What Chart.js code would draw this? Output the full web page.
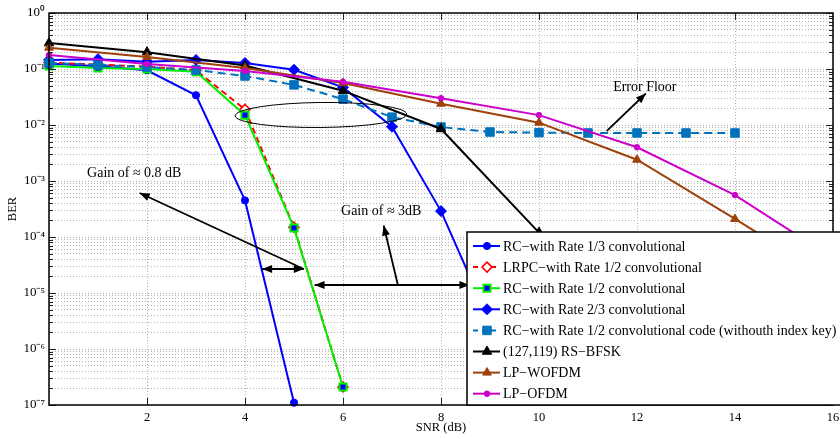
<!DOCTYPE html>
<html>
<head>
<meta charset="utf-8">
<script src="https://cdn.jsdelivr.net/npm/chart.js@4.4.0/dist/chart.umd.min.js"></script>
<style>
html,body{margin:0;padding:0;background:#fff;}
#wrap{width:840px;height:439px;position:relative;}
</style>
</head>
<body>
<div id="wrap"><canvas id="c" width="840" height="439"></canvas></div>
<script>
// ---------------- data ----------------
const seriesLabels = [
  'RC\u2212with Rate 1/3 convolutional',
  'LRPC\u2212with Rate 1/2 convolutional',
  'RC\u2212with Rate 1/2 convolutional',
  'RC\u2212with Rate 2/3 convolutional',
  'RC\u2212with Rate 1/2 convolutional code (withouth index key)',
  '(127,119) RS\u2212BFSK',
  'LP\u2212WOFDM',
  'LP\u2212OFDM'
];
const snrRC13  = [0, 1, 2, 3, 4, 5];
const berRC13  = [0.125, 0.112, 0.095, 0.034, 4.5e-4, 1.1e-7];
const snrLRPC12 = [0, 1, 2, 3, 4, 5, 6];
const berLRPC12 = [0.13, 0.12, 0.11, 0.095, 0.019, 1.5e-4, 2.1e-7];
const snrRC12  = [0, 1, 2, 3, 4, 5, 6];
const berRC12  = [0.113, 0.104, 0.10, 0.089, 0.015, 1.45e-4, 2.1e-7];
const snrRC23  = [0, 1, 2, 3, 4, 5, 6, 7, 8, 9];
const berRC23  = [0.145, 0.15, 0.135, 0.145, 0.128, 0.097, 0.047, 0.0093, 2.9e-4, 3e-6];
const snrNoKey = [0, 1, 2, 3, 4, 5, 6, 7, 8, 9, 10, 11, 12, 13, 14];
const berNoKey = [0.128, 0.118, 0.108, 0.096, 0.075, 0.052, 0.029, 0.0138, 0.0092, 0.0075, 0.0073, 0.0072, 0.0072, 0.0072, 0.0072];
const snrBFSK  = [0, 2, 4, 6, 8, 10];
const berBFSK  = [0.29, 0.20, 0.115, 0.041, 0.0085, 1.2e-4];
const snrWOFDM = [0, 2, 4, 6, 8, 10, 12, 14, 16];
const berWOFDM = [0.24, 0.164, 0.104, 0.056, 0.024, 0.011, 0.0024, 2.1e-4, 1.7e-5];
const snrOFDM  = [0, 2, 4, 6, 8, 10, 12, 14, 16];
const berOFDM  = [0.178, 0.123, 0.092, 0.059, 0.030, 0.015, 0.0040, 5.6e-4, 4.2e-5];

const xTickValues = [0, 2, 4, 6, 8, 10, 12, 14, 16];
const yDecades = [-7, -6, -5, -4, -3, -2, -1, 0];
const supDigits = {'0':'\u2070','1':'\u00B9','2':'\u00B2','3':'\u00B3','4':'\u2074','5':'\u2075','6':'\u2076','7':'\u2077','8':'\u2078','9':'\u2079','-':'\u207B'};

// annotations (data coordinates: SNR, BER)
const annoTexts = [
  {text:'Gain of \u2248 0.8 dB', x:1.74, y:1.39e-3},
  {text:'Gain of \u2248 3dB', x:6.78, y:2.9e-4},
  {text:'Error Floor', x:12.16, y:0.0477}
];
const annoArrows = [
  {x1:5.20, y1:2.68e-5, x2:1.85, y2:6.1e-4, start:false, end:true},
  {x1:4.35, y1:2.68e-5, x2:5.20, y2:2.68e-5, start:true, end:true},
  {x1:5.42, y1:1.39e-5, x2:8.58, y2:1.39e-5, start:true, end:true},
  {x1:7.12, y1:1.39e-5, x2:6.83, y2:1.6e-4, start:false, end:true},
  {x1:11.38, y1:7.8e-3, x2:12.18, y2:0.0365, start:false, end:true}
];
const annoEllipse = {x:5.55, y:0.0151, rxUnits:1.75, ryPx:12.5};

// ---------------- build ----------------
function pts(xs, ys){ return xs.map((x,i)=>({x:x, y:ys[i]})); }
const SERIF = "'Liberation Serif', 'Times New Roman', serif";

const datasets = [
  {label:seriesLabels[0], data:pts(snrRC13,berRC13), borderColor:'#0000ff', backgroundColor:'#0000ff',
   pointStyle:'circle', pointRadius:3.6, pointBackgroundColor:'#0000ff', pointBorderColor:'#0000ff', pointBorderWidth:1, borderWidth:2},
  {label:seriesLabels[1], data:pts(snrLRPC12,berLRPC12), borderColor:'#ff0000', backgroundColor:'#ff0000', borderDash:[6,4],
   pointStyle:'rectRot', pointRadius:5, pointBackgroundColor:'#ffffff', pointBorderColor:'#ff0000', pointBorderWidth:1.6, borderWidth:2},
  {label:seriesLabels[2], data:pts(snrRC12,berRC12), borderColor:'#00ee00', backgroundColor:'#00ee00',
   pointStyle:'rect', pointRadius:5, pointBackgroundColor:'#0000ff', pointBorderColor:'#00ee00', pointBorderWidth:2, borderWidth:2},
  {label:seriesLabels[3], data:pts(snrRC23,berRC23), borderColor:'#0000ff', backgroundColor:'#0000ff',
   pointStyle:'rectRot', pointRadius:5.5, pointBackgroundColor:'#0000ff', pointBorderColor:'#0000ff', pointBorderWidth:1, borderWidth:2},
  {label:seriesLabels[4], data:pts(snrNoKey,berNoKey), borderColor:'#0072bd', backgroundColor:'#0072bd', borderDash:[8,5],
   pointStyle:'rect', pointRadius:6, pointBackgroundColor:'#0072bd', pointBorderColor:'#0072bd', pointBorderWidth:1, borderWidth:2},
  {label:seriesLabels[5], data:pts(snrBFSK,berBFSK), borderColor:'#000000', backgroundColor:'#000000',
   pointStyle:'triangle', pointRadius:5.5, pointBackgroundColor:'#000000', pointBorderColor:'#000000', pointBorderWidth:1, borderWidth:2},
  {label:seriesLabels[6], data:pts(snrWOFDM,berWOFDM), borderColor:'#a0400a', backgroundColor:'#a0400a',
   pointStyle:'triangle', pointRadius:5, pointBackgroundColor:'#a0400a', pointBorderColor:'#a0400a', pointBorderWidth:1, borderWidth:2},
  {label:seriesLabels[7], data:pts(snrOFDM,berOFDM), borderColor:'#cc00cc', backgroundColor:'#cc00cc',
   pointStyle:'circle', pointRadius:2.8, pointBackgroundColor:'#cc00cc', pointBorderColor:'#cc00cc', pointBorderWidth:1, borderWidth:2}
];
datasets.forEach((d,i)=>{ d.order = 20 - i; d.tension = 0; d.fill = false; d.clip = false; d.pointHoverRadius = d.pointRadius; });

const yTickValues = [];
yDecades.forEach(k=>{
  if (k === 0) { yTickValues.push(1); return; }
  for (let m=1; m<=9; m++) yTickValues.push(m*Math.pow(10,k));
});
function isDecade(v){ const l = Math.log10(v); return Math.abs(l - Math.round(l)) < 1e-9; }
function decadeLabel(v){
  const e = String(Math.round(Math.log10(v)));
  return '10' + e.split('').map(c=>supDigits[c]).join('');
}

function marker(ctx, style, r, x, y, fill, stroke, bw){
  ctx.save();
  ctx.beginPath();
  if (style === 'circle') { ctx.arc(x, y, r, 0, Math.PI*2); }
  else if (style === 'rect') { const s = Math.SQRT1_2*r; ctx.rect(x-s, y-s, 2*s, 2*s); }
  else if (style === 'rectRot') { ctx.moveTo(x-r,y); ctx.lineTo(x,y-r); ctx.lineTo(x+r,y); ctx.lineTo(x,y+r); ctx.closePath(); }
  else if (style === 'triangle') {
    let a = 0; ctx.moveTo(x + Math.sin(a)*r, y - Math.cos(a)*r);
    a += 2*Math.PI/3; ctx.lineTo(x + Math.sin(a)*r, y - Math.cos(a)*r);
    a += 2*Math.PI/3; ctx.lineTo(x + Math.sin(a)*r, y - Math.cos(a)*r);
    ctx.closePath();
  }
  ctx.fillStyle = fill; ctx.fill();
  ctx.lineWidth = bw; ctx.strokeStyle = stroke; ctx.stroke();
  ctx.restore();
}

function arrowHead(ctx, x1, y1, x2, y2){
  const ang = Math.atan2(y2-y1, x2-x1), L = 10, W = 4;
  ctx.beginPath();
  ctx.moveTo(x2, y2);
  ctx.lineTo(x2 - L*Math.cos(ang) + W*Math.sin(ang), y2 - L*Math.sin(ang) - W*Math.cos(ang));
  ctx.lineTo(x2 - L*Math.cos(ang) - W*Math.sin(ang), y2 - L*Math.sin(ang) + W*Math.cos(ang));
  ctx.closePath();
  ctx.fill();
}

const decorPlugin = {
  id:'decor',
  afterDatasetsDraw(chart){
    const ctx = chart.ctx, a = chart.chartArea, xs = chart.scales.x, ys = chart.scales.y;
    ctx.save();
    // inward ticks
    ctx.strokeStyle = '#222'; ctx.lineWidth = 1;
    xs.ticks.forEach(t=>{
      if (t.value <= 0 || t.value >= 16) return;
      const px = Math.round(xs.getPixelForValue(t.value)) + 0.5;
      ctx.beginPath();
      ctx.moveTo(px, a.bottom); ctx.lineTo(px, a.bottom - 7);
      ctx.moveTo(px, a.top); ctx.lineTo(px, a.top + 7);
      ctx.stroke();
    });
    ys.ticks.forEach(t=>{
      const py = Math.round(ys.getPixelForValue(t.value)) + 0.5;
      const len = isDecade(t.value) ? 7 : 4;
      ctx.beginPath();
      ctx.moveTo(a.left, py); ctx.lineTo(a.left + len, py);
      ctx.moveTo(a.right, py); ctx.lineTo(a.right - len, py);
      ctx.stroke();
    });
    // box
    ctx.lineWidth = 1.5; ctx.strokeStyle = '#000';
    ctx.strokeRect(a.left, a.top, a.right - a.left, a.bottom - a.top);

    // ellipse
    const ex = xs.getPixelForValue(annoEllipse.x), ey = ys.getPixelForValue(annoEllipse.y);
    const erx = xs.getPixelForValue(annoEllipse.x + annoEllipse.rxUnits) - ex;
    ctx.lineWidth = 1; ctx.strokeStyle = '#000';
    ctx.beginPath(); ctx.ellipse(ex, ey, erx, annoEllipse.ryPx, -0.01, 0, Math.PI*2); ctx.stroke();

    // arrows
    ctx.lineWidth = 1.8; ctx.strokeStyle = '#000'; ctx.fillStyle = '#000';
    annoArrows.forEach(ar=>{
      const x1 = xs.getPixelForValue(ar.x1), y1 = ys.getPixelForValue(ar.y1);
      const x2 = xs.getPixelForValue(ar.x2), y2 = ys.getPixelForValue(ar.y2);
      ctx.beginPath(); ctx.moveTo(x1,y1); ctx.lineTo(x2,y2); ctx.stroke();
      if (ar.end) arrowHead(ctx, x1, y1, x2, y2);
      if (ar.start) arrowHead(ctx, x2, y2, x1, y1);
    });
    // texts
    ctx.font = '14px ' + SERIF; ctx.textAlign = 'center'; ctx.textBaseline = 'middle'; ctx.fillStyle = '#000';
    annoTexts.forEach(t=>{
      ctx.fillText(t.text, xs.getPixelForValue(t.x), ys.getPixelForValue(t.y));
    });

    // legend box
    const lx = a.left + 418, ly = a.top + 219, lw = 400, lh = a.bottom - ly;
    ctx.fillStyle = '#fff'; ctx.fillRect(lx, ly, lw, lh);
    ctx.lineWidth = 1.5; ctx.strokeStyle = '#000'; ctx.strokeRect(lx, ly, lw, lh);
    ctx.font = '14px ' + SERIF; ctx.textAlign = 'left'; ctx.textBaseline = 'middle';
    chart.data.datasets.forEach((d,i)=>{
      const y = ly + 14 + i*21.1;
      ctx.save();
      ctx.strokeStyle = d.borderColor; ctx.lineWidth = d.borderWidth;
      ctx.setLineDash(d.borderDash ? [5,4] : []);
      ctx.beginPath(); ctx.moveTo(lx + 6, y); ctx.lineTo(lx + 33, y); ctx.stroke();
      ctx.restore();
      marker(ctx, d.pointStyle, d.pointRadius, lx + 20, y, d.pointBackgroundColor, d.pointBorderColor, d.pointBorderWidth);
      ctx.fillStyle = '#000';
      ctx.fillText(d.label, lx + 36, y + 1);
    });
    ctx.restore();
  }
};

new Chart(document.getElementById('c'), {
  type:'line',
  data:{datasets:datasets},
  options:{
    responsive:false,
    animation:false,
    devicePixelRatio:1,
    layout:{padding:{top:13, right:4, left:0, bottom:0}},
    plugins:{legend:{display:false}, tooltip:{enabled:false}},
    scales:{
      x:{
        type:'linear', min:0, max:16,
        afterBuildTicks(s){ s.ticks = xTickValues.map(v=>({value:v})); },
        ticks:{callback:(v)=> v === 0 ? '' : String(v), autoSkip:false, maxRotation:0, padding:5,
               color:'#000', font:{family:SERIF, size:12.5}},
        grid:{color:'#b4b4b4', lineWidth:1, drawTicks:false},
        border:{display:false, dash:[1,2]},
        title:{display:true, text:'SNR (dB)', color:'#000', font:{family:SERIF, size:12.5}, padding:{top:0, bottom:3.5}},
        afterFit(s){ s.height = 34; s.paddingLeft = 0; s.paddingRight = 0; }
      },
      y:{
        type:'logarithmic', min:1e-7, max:1,
        afterBuildTicks(s){ s.ticks = yTickValues.map(v=>({value:v, major:isDecade(v)})); },
        ticks:{callback:(v)=> isDecade(v) ? decadeLabel(v) : '', autoSkip:false, padding:4,
               color:'#000', font:{family:SERIF, size:13}},
        grid:{color:'#b4b4b4', lineWidth:1, drawTicks:false},
        border:{display:false, dash:[1,2]},
        title:{display:true, text:'BER', color:'#000', font:{family:SERIF, size:12.5}, padding:{top:5, bottom:0}},
        afterFit(s){ s.width = 49; s.paddingTop = 0; s.paddingBottom = 0; }
      }
    }
  },
  plugins:[decorPlugin]
});
</script>
</body>
</html>
